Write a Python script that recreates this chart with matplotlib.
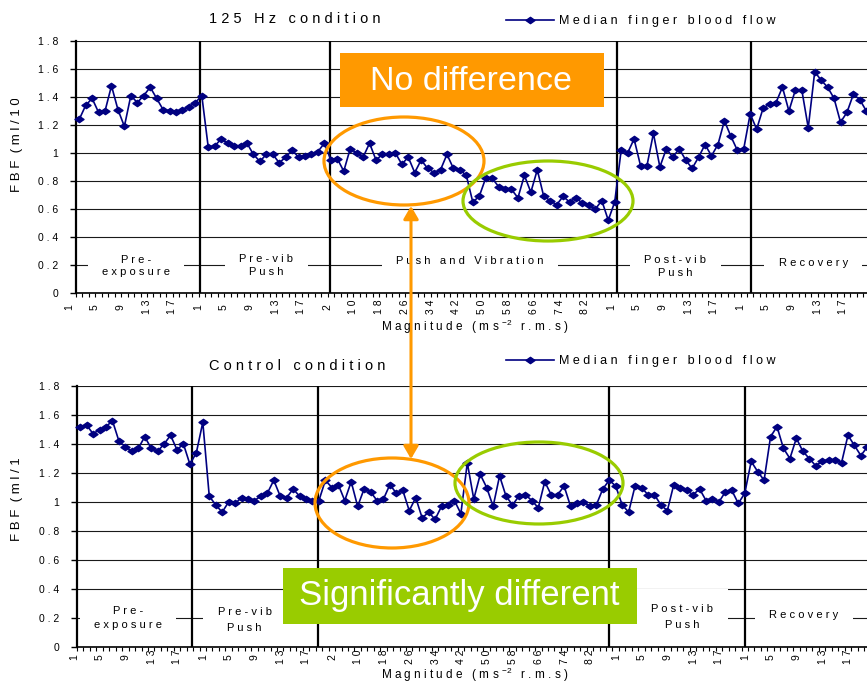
import numpy as np
import matplotlib.pyplot as plt
import matplotlib.transforms as mtransforms
from matplotlib.patches import Ellipse, Rectangle, FancyArrowPatch
from matplotlib.path import Path

plt.rcParams['font.family'] = ['Liberation Sans', 'DejaVu Sans']
plt.rcParams['mathtext.default'] = 'regular'

# Median finger blood flow, 125 Hz condition (one list per phase)
hz125_pre_exposure = [1.24, 1.34, 1.39, 1.29, 1.30, 1.48, 1.31, 1.19, 1.41, 1.36,
                      1.41, 1.47, 1.39, 1.31, 1.30, 1.29, 1.31, 1.33, 1.36, 1.41]
hz125_pre_vib_push = [1.04, 1.05, 1.10, 1.07, 1.05, 1.05, 1.07, 0.99, 0.94, 0.99,
                      0.99, 0.93, 0.97, 1.02, 0.97, 0.98, 0.99, 1.01, 1.07]
hz125_push_vibration = [0.95, 0.96, 0.87, 1.03, 1.00, 0.97, 1.07, 0.95, 0.99, 0.99,
                        1.00, 0.92, 0.97, 0.86, 0.95, 0.89, 0.86, 0.88, 0.99, 0.89,
                        0.88, 0.84, 0.65, 0.69, 0.82, 0.82, 0.76, 0.74, 0.74, 0.68,
                        0.84, 0.72, 0.88, 0.69, 0.66, 0.63, 0.69, 0.65, 0.68, 0.64,
                        0.63, 0.60, 0.66, 0.52, 0.65]
hz125_post_vib_push = [1.02, 1.00, 1.10, 0.91, 0.91, 1.14, 0.90, 1.03, 0.97, 1.03,
                       0.95, 0.89, 0.97, 1.06, 0.98, 1.06, 1.23, 1.12, 1.02, 1.03]
hz125_recovery = [1.28, 1.17, 1.32, 1.35, 1.36, 1.47, 1.30, 1.45, 1.45, 1.18,
                  1.58, 1.52, 1.47, 1.39, 1.22, 1.29, 1.42, 1.38, 1.30]

# Control condition
ctrl_pre_exposure = [1.52, 1.53, 1.47, 1.50, 1.52, 1.56, 1.42, 1.38, 1.35, 1.37,
                     1.45, 1.37, 1.35, 1.40, 1.46, 1.36, 1.40, 1.26, 1.34, 1.55]
ctrl_pre_vib_push = [1.04, 0.98, 0.93, 1.00, 0.99, 1.03, 1.02, 1.01, 1.04, 1.06,
                     1.15, 1.04, 1.03, 1.09, 1.04, 1.02, 1.01, 1.01, 1.15]
ctrl_push_vibration = [1.10, 1.12, 1.01, 1.14, 0.97, 1.09, 1.07, 1.01, 1.02, 1.12,
                       1.06, 1.08, 0.94, 1.03, 0.89, 0.93, 0.88, 0.97, 0.98, 1.01,
                       0.92, 1.27, 1.02, 1.19, 1.10, 0.97, 1.18, 1.04, 0.98, 1.04,
                       1.05, 1.01, 0.96, 1.14, 1.05, 1.05, 1.11, 0.97, 0.99, 1.00,
                       0.97, 0.98, 1.09, 1.15, 1.11]
ctrl_post_vib_push = [0.98, 0.93, 1.11, 1.10, 1.05, 1.05, 0.98, 0.94, 1.12, 1.10,
                      1.08, 1.05, 1.09, 1.01, 1.02, 1.00, 1.07, 1.08, 0.99, 1.06]
ctrl_recovery = [1.28, 1.21, 1.15, 1.45, 1.52, 1.37, 1.30, 1.44, 1.35, 1.30,
                 1.25, 1.28, 1.29, 1.29, 1.27, 1.46, 1.39, 1.32, 1.38]

# every 4th category is labelled
tick_labels = ['1', '5', '9', '13', '17',
               '1', '5', '9', '13', '17',
               '2', '10', '18', '26', '34', '42', '50', '58', '66', '74', '82',
               '1', '5', '9', '13', '17',
               '1', '5', '9', '13', '17']
y_ticks = [0, 0.2, 0.4, 0.6, 0.8, 1.0, 1.2, 1.4, 1.6, 1.8]
phase_names = ['Pre-\nexposure', 'Pre-vib\nPush', 'Push and Vibration',
               'Post-vib\nPush', 'Recovery']

NAVY = '#000080'
ORANGE = '#FF9900'
GREEN = '#99CC00'


def spaced(text, gap=3):
    # the slide text is drawn with wide letter spacing
    out = []
    for line in text.split('\n'):
        out.append((' ' * gap).join(' '.join(w) for w in line.split(' ')))
    return '\n'.join(out)


diamond = Path([(-1, 0), (0, 0.7), (1, 0), (0, -0.7), (-1, 0)],
               [Path.MOVETO, Path.LINETO, Path.LINETO, Path.LINETO, Path.CLOSEPOLY])

fig = plt.figure(figsize=(8.67, 6.85), dpi=100)
W, H = 867, 685


def panel(left, top_px, bottom_px, segments, seps, name_pos, name_spacing,
          label_shift, label_pad, legend_y):
    ax = fig.add_axes([left / W, 1 - bottom_px / H, 800 / W, (bottom_px - top_px) / H])
    values = np.concatenate([np.asarray(s, float) for s in segments])
    x = np.arange(len(values))
    line, = ax.plot(x, values, color=NAVY, lw=1.2, marker=diamond, ms=6.5,
                    zorder=4, clip_on=False)
    ax.set_xlim(-0.5, 123.5)
    ax.set_ylim(0, 1.8)

    ax.set_yticks(y_ticks, [spaced(f'{v:g}') for v in y_ticks])
    ax.tick_params(axis='y', direction='out', length=4.3, width=1, pad=8.5,
                   labelsize=7.5, colors='black')
    ax.grid(axis='y', color='#1a1a1a', lw=0.8)
    ax.set_axisbelow(True)

    ax.set_xticks(np.arange(0, 4 * len(tick_labels), 4),
                  [spaced(t) for t in tick_labels], rotation=90, va='center',
                  fontsize=7.5)
    ax.set_xticks(np.arange(-0.5, 124, 1), minor=True)
    ax.tick_params(axis='x', which='major', length=0, pad=label_pad)
    ax.tick_params(axis='x', which='minor', direction='out', length=3, width=0.8)
    off = mtransforms.ScaledTranslation(label_shift / 100, 0, fig.dpi_scale_trans)
    for lab in ax.get_xticklabels():
        lab.set_transform(lab.get_transform() + off)

    for side in ['top', 'right']:
        ax.spines[side].set_visible(False)
    ax.spines['left'].set_linewidth(1.6)
    ax.spines['bottom'].set_linewidth(1.2)

    ax.vlines(seps, 0, 1.8, color='black', lw=1.6, zorder=2.4)

    for name, (px, py), ls in zip(phase_names, name_pos, name_spacing):
        ax.text(px, py, spaced(name), ha='center', va='center', fontsize=8,
                linespacing=ls, zorder=2.2,
                bbox=dict(boxstyle='square,pad=1.3', fc='white', ec='none'))

    ax.legend([line], [spaced('Median finger blood flow')], loc='center left',
              bbox_to_anchor=(506 / W, 1 - legend_y / H), bbox_transform=fig.transFigure,
              frameon=False, fontsize=9, handlelength=3.8, handletextpad=0.45,
              borderpad=0, borderaxespad=0, numpoints=1)
    return ax


ax1 = panel(76, 41, 293,
            [hz125_pre_exposure, hz125_pre_vib_push, hz125_push_vibration,
             hz125_post_vib_push, hz125_recovery],
            [18.7, 38.9, 83.4, 104.1],
            [(8.8, 0.193), (29.0, 0.196), (60.6, 0.229), (92.4, 0.19), (113.8, 0.214)],
            [1.35, 1.35, 1.2, 1.35, 1.2], -10, 10, 21)

ax2 = panel(77, 386, 647,
            [ctrl_pre_exposure, ctrl_pre_vib_push, ctrl_push_vibration,
             ctrl_post_vib_push, ctrl_recovery],
            [17.3, 36.9, 81.9, 103.1],
            [(7.4, 0.2), (25.5, 0.186), (60.6, 0.2), (93.3, 0.207), (112.2, 0.22)],
            [1.45, 1.8, 1.2, 1.8, 1.2], -6, 7, 361)

# overlay in pixel coordinates for titles and slide annotations
ov = fig.add_axes([0, 0, 1, 1], zorder=10)
ov.set_xlim(0, W)
ov.set_ylim(H, 0)
ov.axis('off')
ov.patch.set_visible(False)

ov.text(295, 19, spaced('125 Hz condition'), ha='center', va='center', fontsize=10.5)
ov.text(297, 366, spaced('Control condition'), ha='center', va='center', fontsize=10.5)

xlab = spaced('Magnitude') + '   ( m s $^{-2}$   r . m . s )'
ov.text(475, 327, xlab, ha='center', va='center', fontsize=8.5)
ov.text(475, 675, xlab, ha='center', va='center', fontsize=8.5)

# y label, cut off by the slide edge
for y0, y_top in [(192, 99), (541, 459)]:
    t = ov.text(20, y0, spaced('FBF (ml/100ml/min)', gap=2), rotation=90,
                rotation_mode='anchor', ha='left', va='baseline', fontsize=9.5)
    t.set_clip_on(True)
    t.set_clip_path(None)
    t.set_clip_box(mtransforms.TransformedBbox(
        mtransforms.Bbox([[0, y0 + 5], [40, y_top]]), ov.transData))

# slide callouts
ov.add_patch(Rectangle((340, 53), 264, 54, fc=ORANGE, ec='none'))
ov.text(471, 81, 'No difference', color='white', fontsize=24.5,
        ha='center', va='center')
ov.add_patch(Rectangle((283, 568), 354, 56, fc=GREEN, ec='none'))
ov.text(459, 596, 'Significantly different', color='white', fontsize=25,
        ha='center', va='center')

ov.add_patch(Ellipse((404, 161), 160, 88, fill=False, ec=ORANGE, lw=2.3))
ov.add_patch(Ellipse((548, 201), 170, 80, fill=False, ec=GREEN, lw=2.3))
ov.add_patch(Ellipse((392, 503), 154, 90, fill=False, ec=ORANGE, lw=2.3))
ov.add_patch(Ellipse((539, 483), 168, 82, fill=False, ec=GREEN, lw=2.3))

ov.add_patch(FancyArrowPatch((411, 206), (411, 459),
                             arrowstyle='<|-|>,head_length=0.55,head_width=0.32',
                             mutation_scale=14, lw=2.2, color=ORANGE,
                             shrinkA=0, shrinkB=0))

fig.savefig('out.png', dpi=100)
